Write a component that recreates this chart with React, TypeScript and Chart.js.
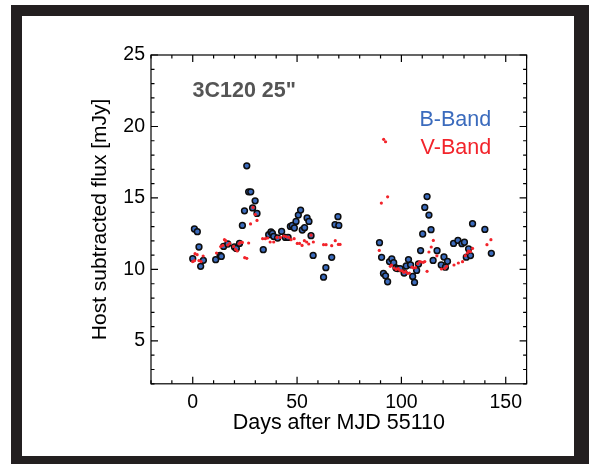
import React, { useEffect, useRef } from "react";
import { Chart, registerables } from "chart.js";

Chart.register(...registerables);

// B-band (blue circles)
const bDays = [
  0, 0.8, 2.2, 3.0, 3.8, 5.1, 11.0, 13.1, 13.7, 14.8, 16.8, 20.0, 20.9, 22.4, 23.8, 24.8,
  25.9, 26.8, 27.8, 28.7, 29.9, 30.8, 33.8, 36.4, 37.5, 38.2, 38.8, 40.7, 42.6, 44.4, 45.7,
  46.8, 47.7, 48.7, 49.5, 50.6, 51.7, 52.5, 53.6, 54.8, 55.7, 56.7, 57.7, 62.7, 63.8, 66.6,
  68.2, 69.6, 70.0,
  89.5, 90.5, 91.4, 92.4, 93.4, 94.3, 95.4, 96.3, 97.4, 98.2, 99.4, 101.3, 102.3, 103.4,
  104.4, 105.4, 106.3, 107.3, 108.2, 109.2, 110.2, 111.2, 112.3, 113.2, 114.2, 115.2, 117.1,
  119.1, 120.4, 121.1, 122.1, 125.0, 127.1, 129.0, 130.2, 131.1, 132.2, 133.1, 134.1, 140.0,
  143.1,
];
const bFlux = [
  10.75, 12.83, 12.64, 11.57, 10.22, 10.64, 10.68, 10.98, 10.91, 11.61, 11.78, 11.57, 11.47,
  11.82, 13.08, 14.1, 17.25, 15.43, 15.43, 14.3, 14.8, 13.92, 11.38, 12.43, 12.62, 12.52,
  12.31, 12.2, 12.66, 12.24, 12.24, 13.01, 13.08, 12.9, 13.36, 13.8, 14.15, 12.76, 12.92,
  13.6, 13.36, 12.36, 10.98, 9.46, 10.12, 10.85, 13.13, 13.69, 13.08,
  11.87, 10.85, 9.72, 9.55, 9.14, 10.55, 10.74, 10.47, 10.1, 10.06, 10.06, 9.75, 10.24, 10.69,
  10.32, 9.51, 9.09, 9.93, 10.38, 11.32, 12.48, 14.34, 15.1, 13.8, 12.78, 10.63, 11.31, 10.31,
  10.87, 10.16, 10.57, 11.82, 12.03, 11.8, 11.9, 10.86, 11.44, 10.97, 13.2, 12.8, 11.13,
];

// V-band (small red dots)
const vDays = [
  0, 0.8, 1.1, 2.1, 3.0, 4.0, 5.0, 11.4, 13.4, 14.4, 15.2, 15.8, 16.8, 17.7, 19.6, 20.6, 21.3,
  22.2, 22.8, 23.8, 24.9, 25.9, 26.8, 27.7, 28.9, 30.0, 30.8, 33.5, 34.8, 35.9, 37.1, 38.8,
  40.4, 42.0, 43.6, 44.7, 46.0, 47.1, 48.6, 50.1, 51.2, 52.4, 53.5, 54.6, 55.6, 56.7, 57.8,
  62.7, 63.9, 66.6, 68.3, 69.8, 70.6,
  89.4, 90.4, 91.5, 92.4, 93.4, 94.7, 95.3, 96.5, 97.5, 98.5, 99.3, 100.4, 101.2, 102.0, 103.0,
  103.8, 105.0, 105.8, 106.8, 107.8, 108.8, 109.6, 110.5, 111.2, 112.3, 113.2, 114.3, 115.3,
  117.0, 119.2, 120.8, 121.7, 125.2, 127.3, 129.3, 130.6, 131.6, 132.2, 133.1, 134.1, 141.0,
  142.9,
];
const vFlux = [
  10.55, 10.62, 11.1, 11.03, 10.62, 10.55, 10.94, 11.15, 11.6, 11.68, 12.08, 12.01, 11.71,
  11.82, 11.61, 11.4, 11.29, 11.8, 11.89, 11.89, 10.82, 10.78, 11.85, 13.18, 14.34, 13.85,
  13.43, 12.15, 12.15, 12.2, 11.92, 11.92, 12.24, 12.24, 12.34, 12.3, 12.24, 12.08, 12.15,
  11.82, 11.82, 11.68, 12.01, 11.92, 11.78, 12.4, 11.92, 11.73, 11.73, 11.66, 12.01, 11.75,
  11.75,
  11.33, 14.64, 19.1, 18.93, 15.08, 10.22, 10.31, 10.1, 10.0, 10.05, 9.94, 9.9, 9.8, 9.85,
  9.73, 9.75, 10.17, 10.1, 10.12, 10.4, 10.55, 10.52, 10.5, 10.55, 9.87, 11.22, 11.57, 12.03,
  10.95, 10.03, 10.08, 10.22, 10.31, 10.45, 10.54, 10.96, 11.15, 11.29, 11.24, 11.47, 11.73,
  12.08,
];

const xTickValues = [0, 50, 100, 150];
const yTickValues = [5, 10, 15, 20, 25];
const xRange = [-20, 160];
const yRange = [2, 25];
const xMinorStep = 10;
const yMinorStep = 1;

const xTitle = "Days after MJD 55110";
const yTitle = "Host subtracted flux [mJy]";
const annotation = '3C120 25"';
const legendLabels = ["B-Band", "V-Band"];

const BLUE = "#3b6bbd";
const RED = "#f2242b";
const FONT = "'Liberation Sans', Arial, Helvetica, sans-serif";

const boxTicksPlugin = {
  id: "boxTicks",
  afterDraw(chart: any) {
    const { ctx, chartArea: a, scales } = chart;
    const xs = scales.x;
    const ys = scales.y;
    ctx.save();
    ctx.strokeStyle = "#000";
    ctx.lineWidth = 1.2;
    ctx.strokeRect(a.left, a.top, a.right - a.left, a.bottom - a.top);
    ctx.beginPath();
    for (let v = Math.ceil(xRange[0] / xMinorStep) * xMinorStep; v <= xRange[1]; v += xMinorStep) {
      const px = xs.getPixelForValue(v);
      const len = v % 50 === 0 ? 7 : 3.5;
      ctx.moveTo(px, a.bottom);
      ctx.lineTo(px, a.bottom - len);
      ctx.moveTo(px, a.top);
      ctx.lineTo(px, a.top + len);
    }
    for (let v = Math.ceil(yRange[0] / yMinorStep) * yMinorStep; v <= yRange[1]; v += yMinorStep) {
      const py = ys.getPixelForValue(v);
      const len = v % 5 === 0 ? 7 : 3.5;
      ctx.moveTo(a.left, py);
      ctx.lineTo(a.left + len, py);
      ctx.moveTo(a.right, py);
      ctx.lineTo(a.right - len, py);
    }
    ctx.stroke();
    ctx.restore();
  },
};

const textPlugin = {
  id: "texts",
  afterDraw(chart: any) {
    const { ctx, chartArea: a } = chart;
    ctx.save();
    ctx.textBaseline = "middle";
    ctx.font = `bold 21.5px ${FONT}`;
    ctx.fillStyle = "#555555";
    ctx.textAlign = "left";
    ctx.fillText(annotation, a.left + 41.5, a.top + 36.5);
    ctx.font = `21.5px ${FONT}`;
    ctx.textAlign = "right";
    ctx.fillStyle = BLUE;
    ctx.fillText(legendLabels[0], a.right - 35.5, a.top + 65);
    ctx.fillStyle = RED;
    ctx.fillText(legendLabels[1], a.right - 35.5, a.top + 93.3);
    ctx.restore();
  },
};

export default function App() {
  const ref = useRef<HTMLCanvasElement>(null);
  useEffect(() => {
    const tickFont = { family: FONT, size: 19.5 };
    const chart = new Chart(ref.current!, {
      type: "scatter",
      data: {
        datasets: [
          {
            label: legendLabels[1],
            data: vDays.map((d, i) => ({ x: d, y: vFlux[i] })),
            order: 0,
            pointRadius: 1.6,
            pointBorderWidth: 0,
            pointBackgroundColor: RED,
            pointBorderColor: RED,
          },
          {
            label: legendLabels[0],
            data: bDays.map((d, i) => ({ x: d, y: bFlux[i] })),
            order: 1,
            pointRadius: 2.9,
            pointBorderWidth: 1.5,
            pointBackgroundColor: BLUE,
            pointBorderColor: "#0d0d0d",
          },
        ],
      },
      options: {
        animation: false,
        responsive: false,
        devicePixelRatio: 1,
        events: [],
        layout: { padding: { left: 0, top: 39, right: 47.4, bottom: 0 } },
        plugins: { legend: { display: false }, tooltip: { enabled: false } },
        scales: {
          x: {
            type: "linear",
            min: xRange[0],
            max: xRange[1],
            afterBuildTicks: (s: any) => {
              s.ticks = xTickValues.map((v) => ({ value: v }));
            },
            afterFit: (s: any) => {
              s.height = 72.2;
            },
            grid: { display: false, drawTicks: false },
            border: { display: false },
            ticks: { padding: 7, font: tickFont, color: "#000", maxRotation: 0, autoSkip: false },
            title: {
              display: true,
              text: xTitle,
              color: "#000",
              font: { family: FONT, size: 21.5 },
              padding: { top: 0, bottom: 20.5 },
            },
          },
          y: {
            type: "linear",
            min: yRange[0],
            max: yRange[1],
            afterBuildTicks: (s: any) => {
              s.ticks = yTickValues.map((v) => ({ value: v }));
            },
            afterFit: (s: any) => {
              s.width = 129;
            },
            grid: { display: false, drawTicks: false },
            border: { display: false },
            ticks: { padding: 6, font: tickFont, color: "#000", autoSkip: false },
            title: {
              display: true,
              text: yTitle,
              color: "#000",
              font: { family: FONT, size: 21 },
              padding: { top: 65.4, bottom: 0 },
            },
          },
        },
      },
      plugins: [boxTicksPlugin, textPlugin],
    });
    return () => chart.destroy();
  }, []);

  return (
    <div style={{ position: "absolute", left: 0, top: 0, width: 589, height: 464, background: "#fff", overflow: "hidden" }}>
      <div style={{ position: "absolute", left: 11, top: 5, width: 578, height: 459, background: "#231f20" }} />
      <div style={{ position: "absolute", left: 22, top: 16, width: 552, height: 440, background: "#fff" }} />
      <canvas
        ref={ref}
        width={552}
        height={440}
        style={{ position: "absolute", left: 22, top: 16, width: 552, height: 440 }}
      />
    </div>
  );
}
